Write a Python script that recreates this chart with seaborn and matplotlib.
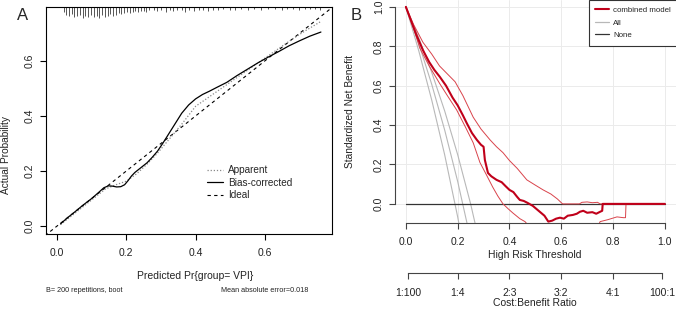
import numpy as np
import pandas as pd
import matplotlib
matplotlib.use("Agg")
import matplotlib.pyplot as plt
import seaborn as sns
from matplotlib.lines import Line2D

sns.set_style("white")
plt.rcParams['font.family'] = ['Liberation Sans', 'DejaVu Sans']
plt.rcParams['axes.linewidth'] = 0.8

# ---- panel A: calibration curve ----
ideal_x = [-0.05, 0.85]
ideal_y = [-0.05, 0.85]

bc_x = [0.01, 0.03, 0.05, 0.075, 0.1, 0.12, 0.135, 0.148, 0.16, 0.172, 0.184, 0.195,
        0.205, 0.215, 0.225, 0.24, 0.26, 0.275, 0.29, 0.305, 0.32, 0.34, 0.36, 0.38,
        0.40, 0.42, 0.44, 0.46, 0.49, 0.52, 0.55, 0.58, 0.61, 0.64, 0.67, 0.70, 0.73, 0.762]
bc_y = [0.008, 0.03, 0.05, 0.076, 0.1, 0.122, 0.139, 0.146, 0.145, 0.142, 0.143, 0.150,
        0.165, 0.182, 0.195, 0.21, 0.23, 0.25, 0.272, 0.30, 0.33, 0.37, 0.41, 0.44,
        0.462, 0.478, 0.49, 0.503, 0.522, 0.547, 0.57, 0.593, 0.614, 0.634, 0.655, 0.673, 0.69, 0.705]

ap_x = [0.01, 0.05, 0.1, 0.14, 0.17, 0.2, 0.23, 0.26, 0.29, 0.32, 0.36, 0.40, 0.44,
        0.48, 0.52, 0.56, 0.60, 0.64, 0.68, 0.72, 0.76]
ap_y = [0.005, 0.045, 0.095, 0.135, 0.15, 0.163, 0.19, 0.225, 0.265, 0.31, 0.37, 0.435,
        0.47, 0.505, 0.54, 0.575, 0.61, 0.645, 0.68, 0.712, 0.742]

# rug of predicted probabilities (position, relative frequency)
rug_x = [0.02, 0.027, 0.035, 0.043, 0.05, 0.058, 0.066, 0.074, 0.082, 0.09, 0.098, 0.106,
         0.114, 0.122, 0.13, 0.138, 0.146, 0.154, 0.162, 0.17, 0.178, 0.186, 0.194, 0.202,
         0.21, 0.218, 0.226, 0.234, 0.242, 0.25, 0.258, 0.266, 0.28, 0.29, 0.30, 0.315,
         0.325, 0.335, 0.345, 0.36, 0.37, 0.38, 0.395, 0.41, 0.42, 0.435, 0.45, 0.465,
         0.48, 0.5, 0.515, 0.53, 0.55, 0.57, 0.59, 0.61, 0.63, 0.65, 0.665, 0.68, 0.70,
         0.715, 0.73, 0.745, 0.76]
rug_h = [5, 8, 9, 7, 10, 9, 8, 11, 9, 10, 8, 10, 9, 11, 8, 10, 9, 7, 9, 8, 6, 7, 6, 5,
         6, 5, 4, 5, 4, 4, 5, 3, 3, 4, 3, 5, 3, 4, 3, 3, 5, 3, 4, 3, 3, 4, 3, 3,
         2, 3, 3, 2, 3, 2, 3, 2, 2, 3, 2, 2, 3, 2, 2, 2, 3]

# ---- panel B: decision curve ----
nb_t = [0, 0.02, 0.04, 0.066, 0.09, 0.11, 0.131, 0.155, 0.18, 0.2, 0.22, 0.235, 0.255,
        0.274, 0.29, 0.3, 0.305, 0.317, 0.33, 0.35, 0.37, 0.385, 0.4, 0.415, 0.43, 0.44,
        0.455, 0.47, 0.49, 0.517, 0.535, 0.55, 0.565, 0.58, 0.595, 0.61, 0.625, 0.645,
        0.66, 0.672, 0.685, 0.7, 0.72, 0.735, 0.75, 0.758, 0.76, 0.8, 0.9, 1.0]
nb_y = [1.0, 0.93, 0.86, 0.78, 0.72, 0.68, 0.645, 0.6, 0.54, 0.5, 0.45, 0.41, 0.36,
        0.325, 0.3, 0.29, 0.223, 0.157, 0.14, 0.122, 0.11, 0.09, 0.071, 0.06, 0.035, 0.02,
        0.015, 0.005, -0.01, -0.04, -0.06, -0.09, -0.085, -0.075, -0.07, -0.075, -0.06, -0.056,
        -0.05, -0.04, -0.035, -0.045, -0.042, -0.05, -0.04, -0.035, 0.0, 0.0, 0.0, 0.0]

up_t = [0, 0.03, 0.066, 0.1, 0.13, 0.16, 0.19, 0.22, 0.26, 0.29, 0.325, 0.35, 0.375, 0.4,
        0.43, 0.467, 0.5, 0.53, 0.56, 0.585, 0.605, 0.64, 0.67, 0.68, 0.7, 0.72, 0.74, 0.75,
        0.8, 0.9, 1.0]
up_y = [1.0, 0.91, 0.82, 0.76, 0.70, 0.66, 0.62, 0.55, 0.44, 0.38, 0.325, 0.29, 0.26, 0.22,
        0.18, 0.122, 0.095, 0.071, 0.05, 0.025, 0.0, 0.0, 0.0, 0.008, 0.01, 0.006, 0.008, 0.0,
        0.0, 0.0, 0.0]

lo_t = [0, 0.03, 0.054, 0.09, 0.131, 0.16, 0.196, 0.23, 0.26, 0.286, 0.31, 0.335, 0.355,
        0.375, 0.395, 0.413, 0.44, 0.46, 0.48, 0.74, 0.75, 0.78, 0.815, 0.84, 0.848, 0.85,
        0.9, 1.0]
lo_y = [1.0, 0.89, 0.79, 0.70, 0.61, 0.55, 0.477, 0.39, 0.31, 0.21, 0.15, 0.086, 0.04,
        0.0, -0.025, -0.046, -0.075, -0.09, -0.12, -0.12, -0.09, -0.08, -0.066, -0.07, -0.07,
        0.0, 0.0, 0.0]

all_t = [0, 0.05, 0.1, 0.15, 0.2, 0.25, 0.3]
all_mid = [1.0, 0.813, 0.606, 0.374, 0.114, -0.18, -0.5]
all_lo = [1.0, 0.776, 0.526, 0.248, -0.066, -0.42, -0.8]
all_hi = [1.0, 0.842, 0.667, 0.471, 0.25, 0.0, -0.286]

none_t = [0, 1]
none_y = [0, 0]

cb_pos = [1 / 101, 0.2, 0.4, 0.6, 0.8, 100 / 101]
cb_labels = ["1:100", "1:4", "2:3", "3:2", "4:1", "100:1"]

W, H = 676, 309
fig = plt.figure(figsize=(W / 100, H / 100), dpi=100)

def box(l, t, r, b):
    return [l / W, 1 - b / H, (r - l) / W, (b - t) / H]

# ===== A =====
axA = fig.add_axes(box(46, 7, 332, 234))
sns.lineplot(x=ideal_x, y=ideal_y, ax=axA, color='black', lw=0.8, linestyle=(0, (3, 3)), sort=False)
sns.lineplot(x=ap_x, y=ap_y, ax=axA, color='#888888', lw=0.9, linestyle=(0, (1, 1.5)), sort=False)
sns.lineplot(x=bc_x, y=bc_y, ax=axA, color='black', lw=0.9, sort=False)
axA.set_xlim(-0.032, 0.794)
axA.set_ylim(-0.029, 0.796)
top = 0.796
axA.vlines(rug_x, top - np.array(rug_h) * 0.0036, top, color='#555555', lw=0.7)
axA.set_xticks([0, 0.2, 0.4, 0.6])
axA.set_yticks([0, 0.2, 0.4, 0.6])
axA.set_xticklabels(["0.0", "0.2", "0.4", "0.6"])
axA.set_yticklabels(["0.0", "0.2", "0.4", "0.6"], rotation=90, va='center')
axA.tick_params(axis='both', length=4.3, width=0.8, labelsize=7.5, color='black',
                labelcolor='#222222', direction='out', bottom=True, left=True)
axA.tick_params(axis='x', pad=5.5)
axA.tick_params(axis='y', pad=4.0)
for s in axA.spines.values():
    s.set_color('black')
    s.set_linewidth(0.8)
axA.set_xlabel("Predicted Pr{group= VPI}", fontsize=7.5, color='#222222')
axA.xaxis.set_label_coords(0.52, -0.165)
axA.set_ylabel("Actual Probability", fontsize=7.3, color='#222222')
axA.yaxis.set_label_coords(11 / W, 0.5, transform=fig.transFigure)

legA = [Line2D([0], [0], color='#888888', lw=0.9, linestyle=(0, (1, 1.5))),
        Line2D([0], [0], color='black', lw=0.9),
        Line2D([0], [0], color='black', lw=0.8, linestyle=(0, (3, 3)))]
axA.legend(legA, ["Apparent", "Bias-corrected", "Ideal"], loc='center left',
           bbox_to_anchor=(0.545, 0.225), frameon=False, fontsize=7.2,
           handlelength=1.6, handletextpad=0.5, labelspacing=0.25, borderpad=0)

fig.text(46 / W, 1 - 290 / H, "B= 200 repetitions, boot", fontsize=5.2, ha='left', va='center', color='#222222')
fig.text(308 / W, 1 - 290 / H, "Mean absolute error=0.018", fontsize=5.2, ha='right', va='center', color='#222222')
fig.text(23 / W, 1 - 15 / H, "A", fontsize=12, ha='center', va='center')

# ===== B =====
axB = fig.add_axes(box(395, 0, 676, 223))
axB.set_xlim(-0.042, 1.043)
axB.set_ylim(-0.097, 1.035)
axB.set_xticks([0, 0.2, 0.4, 0.6, 0.8, 1.0])
axB.set_yticks([0, 0.2, 0.4, 0.6, 0.8, 1.0])
axB.grid(True, color='#ebebeb', lw=0.7)
axB.set_axisbelow(True)

for yy in [all_lo, all_mid, all_hi]:
    sns.lineplot(x=all_t, y=yy, ax=axB, color='#b8b8b8', lw=0.8, sort=False)
sns.lineplot(x=none_t, y=none_y, ax=axB, color='#333333', lw=0.9, sort=False)
sns.lineplot(x=up_t, y=up_y, ax=axB, color='#d9434b', lw=0.7, sort=False)
sns.lineplot(x=lo_t, y=lo_y, ax=axB, color='#d9434b', lw=0.7, sort=False)
sns.lineplot(x=nb_t, y=nb_y, ax=axB, color='#c0001a', lw=1.5, sort=False)

axB.set_xticklabels(["0.0", "0.2", "0.4", "0.6", "0.8", "1.0"])
axB.set_yticklabels(["0.0", "0.2", "0.4", "0.6", "0.8", "1.0"], rotation=90, va='center')
for k in ['top', 'right']:
    axB.spines[k].set_visible(False)
axB.spines['left'].set_bounds(0, 1)
axB.spines['bottom'].set_bounds(0, 1)
for k in ['left', 'bottom']:
    axB.spines[k].set_color('#444444')
    axB.spines[k].set_linewidth(0.8)
axB.tick_params(axis='both', length=4.3, width=0.8, labelsize=7.5, color='#444444',
                labelcolor='#222222', direction='out', bottom=True, left=True)
axB.tick_params(axis='x', pad=5.8)
axB.tick_params(axis='y', pad=3.6)
axB.set_xlabel("High Risk Threshold", fontsize=7.5, color='#222222')
axB.xaxis.set_label_coords(535 / W, 1 - 250 / H, transform=fig.transFigure)
axB.set_ylabel("Standardized Net Benefit", fontsize=7.3, color='#222222')
axB.yaxis.set_label_coords(355 / W, 1 - 111 / H, transform=fig.transFigure)

legB = [Line2D([0], [0], color='#c0001a', lw=1.5),
        Line2D([0], [0], color='#b8b8b8', lw=0.9),
        Line2D([0], [0], color='#333333', lw=0.9)]
lg = axB.legend(legB, ["combined model", "All", "None"], loc='upper left',
                bbox_to_anchor=(589 / W, 1.0), bbox_transform=fig.transFigure,
                fontsize=5.7, handlelength=1.7, handletextpad=0.55, labelspacing=0.65,
                borderpad=0.8, borderaxespad=0, fancybox=False, framealpha=1)
lg.get_frame().set_edgecolor('#333333')
lg.get_frame().set_linewidth(0.8)

fig.text(356 / W, 1 - 15 / H, "B", fontsize=12, ha='center', va='center')

# cost:benefit axis
axC = fig.add_axes(box(395, 263, 676, 273))
axC.patch.set_alpha(0)
axC.set_xlim(-0.042, 1.043)
axC.set_ylim(0, 1)
axC.set_yticks([])
for k in ['top', 'right', 'left']:
    axC.spines[k].set_visible(False)
axC.spines['bottom'].set_bounds(cb_pos[0], cb_pos[-1])
axC.spines['bottom'].set_color('#444444')
axC.spines['bottom'].set_linewidth(0.8)
axC.set_xticks(cb_pos)
axC.set_xticklabels(cb_labels)
axC.tick_params(axis='x', length=4.3, width=0.8, labelsize=7.5, color='#444444',
                labelcolor='#222222', pad=6.5, bottom=True)
axC.set_xlabel("Cost:Benefit Ratio", fontsize=7.5, color='#222222')
axC.xaxis.set_label_coords(535 / W, 1 - 298 / H, transform=fig.transFigure)

fig.savefig("out.png", dpi=100)
